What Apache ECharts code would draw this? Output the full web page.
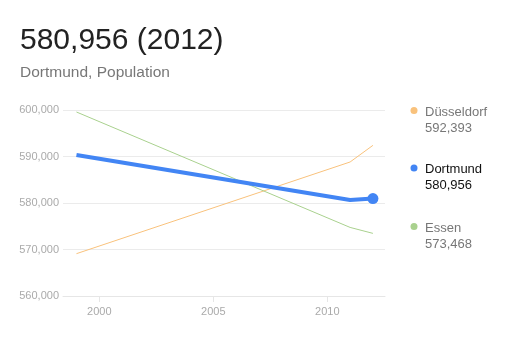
<!DOCTYPE html>
<html>
<head>
<meta charset="utf-8">
<script src="https://cdn.jsdelivr.net/npm/echarts@6/dist/echarts.min.js"></script>
<style>html,body{margin:0;padding:0;background:#fff;}#c{width:517px;height:338px;}</style>
</head>
<body>
<div id="c"></div>
<script>
var years = [1999, 2011, 2012];
var cities = ['Düsseldorf', 'Dortmund', 'Essen'];
var duesseldorf = [569100, 588820, 592393];
var dortmund = [590320, 580650, 580956];
var essen = [599570, 574750, 573468];
var yTicks = [560000, 570000, 580000, 590000, 600000];
var xTicks = [2000, 2005, 2010];
var titleText = '580,956 (2012)';
var subtitleText = 'Dortmund, Population';

var FONT = '"Liberation Sans", Arial, sans-serif';
var colors = ['#f9c27c', '#4285f4', '#a9d18e'];
var seriesData = [duesseldorf, dortmund, essen];
function pairs(vals) { return years.map(function (y, i) { return [y, vals[i]]; }); }
function fmt(v) { return v.toLocaleString('en-US'); }

var chart = echarts.init(document.getElementById('c'), null, { renderer: 'canvas' });

var graphics = [
  { type: 'text', x: 20, y: 41, style: { text: titleText, font: '30px ' + FONT, fill: '#222', verticalAlign: 'middle' } },
  { type: 'text', x: 20, y: 72.5, style: { text: subtitleText, font: '15.5px ' + FONT, fill: '#777', verticalAlign: 'middle' } }
];
var legendY = [112, 169.5, 228];
cities.forEach(function (name, i) {
  var vals = seriesData[i];
  var highlighted = name === 'Dortmund';
  graphics.push({ type: 'circle', shape: { cx: 414, cy: legendY[i] - 1.5, r: 3.5 }, style: { fill: colors[i] } });
  graphics.push({ type: 'text', x: 425, y: legendY[i], style: { text: name, font: '13px ' + FONT, fill: highlighted ? '#111' : '#777', verticalAlign: 'middle' } });
  graphics.push({ type: 'text', x: 425, y: legendY[i] + 16, style: { text: fmt(vals[vals.length - 1]), font: '13px ' + FONT, fill: highlighted ? '#111' : '#777', verticalAlign: 'middle' } });
});

var series = cities.map(function (name, i) {
  var isMain = name === 'Dortmund';
  return {
    name: name,
    type: 'line',
    data: pairs(seriesData[i]),
    z: isMain ? 5 : 2,
    lineStyle: { color: colors[i], width: isMain ? 4 : 1 },
    itemStyle: { color: colors[i] },
    symbol: 'circle',
    symbolSize: function (v, p) { return (isMain && p.dataIndex === years.length - 1) ? 11 : 0; },
    showSymbol: true,
    showAllSymbol: true,
    silent: true,
    animation: false
  };
});

chart.setOption({
  animation: false,
  grid: { left: 63, right: 132, top: 110, bottom: 42, containLabel: false },
  xAxis: {
    type: 'value',
    min: 1998.41,
    max: 2012.53,
    axisLine: { show: true, lineStyle: { color: '#e6e6e6', width: 1 } },
    axisTick: { show: true, length: 6, lineStyle: { color: '#e6e6e6' }, customValues: xTicks },
    axisLabel: { color: '#aaa', fontSize: 11, fontFamily: FONT, margin: 10, customValues: xTicks, formatter: function (v) { return String(v); } },
    splitLine: { show: false }
  },
  yAxis: {
    type: 'value',
    min: yTicks[0],
    max: yTicks[yTicks.length - 1],
    interval: 10000,
    axisLine: { show: false },
    axisTick: { show: false },
    axisLabel: { color: '#aaa', fontSize: 11, fontFamily: FONT, margin: 4, formatter: function (v) { return fmt(v); } },
    splitLine: { show: true, lineStyle: { color: '#ebebeb', width: 1 } }
  },
  series: series,
  graphic: graphics
});
</script>
</body>
</html>
